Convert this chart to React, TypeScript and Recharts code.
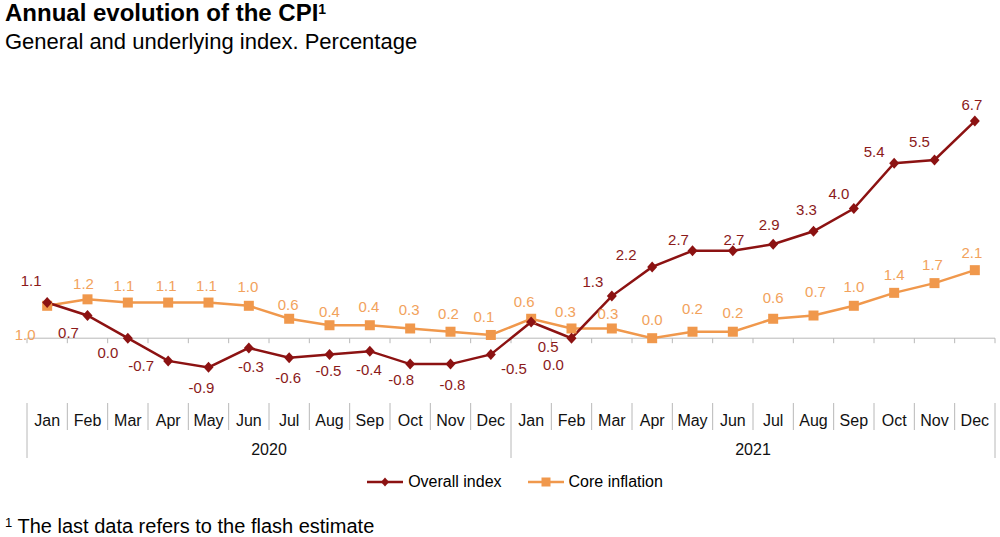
import { LineChart, Line, XAxis, YAxis, ReferenceLine, LabelList } from 'recharts';

const months = ['Jan', 'Feb', 'Mar', 'Apr', 'May', 'Jun', 'Jul', 'Aug', 'Sep', 'Oct', 'Nov', 'Dec'];
const years = ['2020', '2021'];

const overallIndex = [1.1, 0.7, 0.0, -0.7, -0.9, -0.3, -0.6, -0.5, -0.4, -0.8, -0.8, -0.5, 0.5, 0.0, 1.3, 2.2, 2.7, 2.7, 2.9, 3.3, 4.0, 5.4, 5.5, 6.7];
const coreInflation = [1.0, 1.2, 1.1, 1.1, 1.1, 1.0, 0.6, 0.4, 0.4, 0.3, 0.2, 0.1, 0.6, 0.3, 0.3, 0.0, 0.2, 0.2, 0.6, 0.7, 1.0, 1.4, 1.7, 2.1];

// label nudges (dx, dy) from each marker, as placed in the original
const overallLabelOffsets = [
  [-16, -22], [-19, 17], [-20, 15], [-27, 5], [-7, 20], [2, 19], [-1, 20], [-1, 16], [-1, 19], [-9, 16], [2, 21], [23, 14],
  [17, 25], [-18, 27], [-19, -14], [-26, -12], [-14, -11], [1, -11], [-4, -19], [-7, -22], [-15, -15], [-20, -11], [-15, -18], [-3, -16],
];
const coreLabelOffsets = [
  [-22, 29], [-4, -16], [-4, -17], [-2, -17], [-2, -17], [-1, -19], [-1, -14], [0, -13], [-1, -18], [-1, -19], [-2, -18], [-7, -18],
  [-7, -17], [-6, -17], [-4, -15], [0, -18], [0, -23], [0, -19], [0, -21], [2, -24], [0, -19], [0, -18], [-2, -18], [-3, -17],
];

const data = years.flatMap((yr, yi) =>
  months.map((m, mi) => {
    const i = yi * months.length + mi;
    return { key: `${m} ${yr}`, overall: overallIndex[i], core: coreInflation[i] };
  })
);

const RED = '#8C1212';
const RED_TEXT = '#8B1A1A';
const ORANGE = '#F0984C';
const ORANGE_TEXT = '#F2A25C';
const GRID = '#B8B8B8';
const FONT = '"Liberation Sans", Arial, sans-serif';

const W = 1000;
const H = 470;
const M = { top: 79, right: 5, left: 27, bottom: 7 };

function ZeroLine(props: any) {
  const { x1, x2, y1 } = props;
  const n = data.length;
  const step = (x2 - x1) / n;
  return (
    <g>
      <line x1={x1} x2={x2} y1={y1} y2={y1} stroke={GRID} strokeWidth={1} />
      {Array.from({ length: n + 1 }, (_, i) => (
        <line key={i} x1={x1 + i * step} x2={x1 + i * step} y1={y1} y2={y1 + 5} stroke={GRID} strokeWidth={1} />
      ))}
    </g>
  );
}

function MonthTick(props: any) {
  const { x, y, payload } = props;
  const i: number = payload.index;
  const half: number = payload.offset || (W - M.left - M.right) / data.length / 2;
  const perYear = months.length;
  const isYearStart = i % perYear === 0;
  const isLast = i === data.length - 1;
  return (
    <g>
      <line x1={x - half} x2={x - half} y1={y} y2={y + (isYearStart ? 55 : 27)} stroke={GRID} strokeWidth={1} />
      {isLast && <line x1={x + half} x2={x + half} y1={y} y2={y + 55} stroke={GRID} strokeWidth={1} />}
      <text x={x} y={y + 23} textAnchor="middle" fontSize={16} fill="#111" fontFamily={FONT}>
        {months[i % perYear]}
      </text>
      {i % perYear === perYear / 2 - 1 && (
        <text x={x + half} y={y + 52} textAnchor="middle" fontSize={16} fill="#111" fontFamily={FONT}>
          {years[Math.floor(i / perYear)]}
        </text>
      )}
    </g>
  );
}

function Diamond(props: any) {
  const { cx, cy, index } = props;
  if (cx == null || cy == null) return <g key={index} />;
  return <path key={index} d={`M${cx},${cy - 5.5} L${cx + 5},${cy} L${cx},${cy + 5.5} L${cx - 5},${cy} Z`} fill={RED} />;
}

function Square(props: any) {
  const { cx, cy, index } = props;
  if (cx == null || cy == null) return <g key={index} />;
  return <rect key={index} x={cx - 5} y={cy - 5} width={10} height={10} fill={ORANGE} />;
}

function makeLabel(offsets: number[][], color: string) {
  return (props: any) => {
    const { x, y, value, index } = props;
    const [dx, dy] = offsets[index] || [0, -16];
    return (
      <text x={x + dx} y={y + dy} dy="0.35em" textAnchor="middle" fontSize={15} fill={color} fontFamily={FONT}>
        {Number(value).toFixed(1)}
      </text>
    );
  };
}

function LegendItem({ color, label, marker }: { color: string; label: string; marker: 'diamond' | 'square' }) {
  return (
    <span style={{ display: 'inline-flex', alignItems: 'center', gap: 5 }}>
      <svg width={36} height={12}>
        <line x1={0} x2={36} y1={6} y2={6} stroke={color} strokeWidth={2.5} />
        {marker === 'diamond' ? (
          <path d="M18,1.5 L22,6 L18,10.5 L14,6 Z" fill={color} />
        ) : (
          <rect x={13.5} y={1.5} width={9} height={9} fill={color} />
        )}
      </svg>
      <span>{label}</span>
    </span>
  );
}

export default function App() {
  return (
    <div style={{ position: 'absolute', left: 0, top: 0, width: W, height: 537, background: '#fff', fontFamily: FONT, color: '#000' }}>
      <div style={{ position: 'absolute', left: 5, top: 1, fontSize: 24, lineHeight: '24px', fontWeight: 700, whiteSpace: 'nowrap' }}>
        Annual evolution of the CPI
        <span style={{ fontSize: 14, lineHeight: '14px', verticalAlign: 'top', position: 'relative', top: 1 }}>1</span>
      </div>
      <div style={{ position: 'absolute', left: 5, top: 31, fontSize: 22, lineHeight: '22px', whiteSpace: 'nowrap' }}>
        General and underlying index. Percentage
      </div>

      <div style={{ position: 'absolute', left: 0, top: 0 }}>
        <LineChart width={W} height={H} data={data} margin={M}>
          <XAxis
            dataKey="key"
            scale="band"
            interval={0}
            axisLine={false}
            tickLine={false}
            tickSize={0}
            tickMargin={0}
            height={60}
            tick={<MonthTick />}
          />
          <YAxis hide type="number" domain={[-2, 8]} />
          <ReferenceLine y={0} shape={ZeroLine} />
          <Line
            dataKey="core"
            name="Core inflation"
            stroke={ORANGE}
            strokeWidth={2.5}
            dot={Square}
            activeDot={false}
            isAnimationActive={false}
          >
            <LabelList dataKey="core" content={makeLabel(coreLabelOffsets, ORANGE_TEXT)} />
          </Line>
          <Line
            dataKey="overall"
            name="Overall index"
            stroke={RED}
            strokeWidth={2.5}
            dot={Diamond}
            activeDot={false}
            isAnimationActive={false}
          >
            <LabelList dataKey="overall" content={makeLabel(overallLabelOffsets, RED_TEXT)} />
          </Line>
        </LineChart>
      </div>

      <div
        style={{
          position: 'absolute',
          left: 0,
          width: W,
          top: 472,
          height: 20,
          display: 'flex',
          justifyContent: 'center',
          alignItems: 'center',
          gap: 26,
          fontSize: 16,
          paddingLeft: 30,
          boxSizing: 'border-box',
        }}
      >
        <LegendItem color={RED} label="Overall index" marker="diamond" />
        <LegendItem color={ORANGE} label="Core inflation" marker="square" />
      </div>

      <div style={{ position: 'absolute', left: 5, top: 516, fontSize: 20, lineHeight: '20px', whiteSpace: 'nowrap' }}>
        <span style={{ fontSize: 13, lineHeight: '13px', verticalAlign: 'top', position: 'relative', top: 0 }}>1</span> The last data refers to the flash estimate
      </div>
    </div>
  );
}
